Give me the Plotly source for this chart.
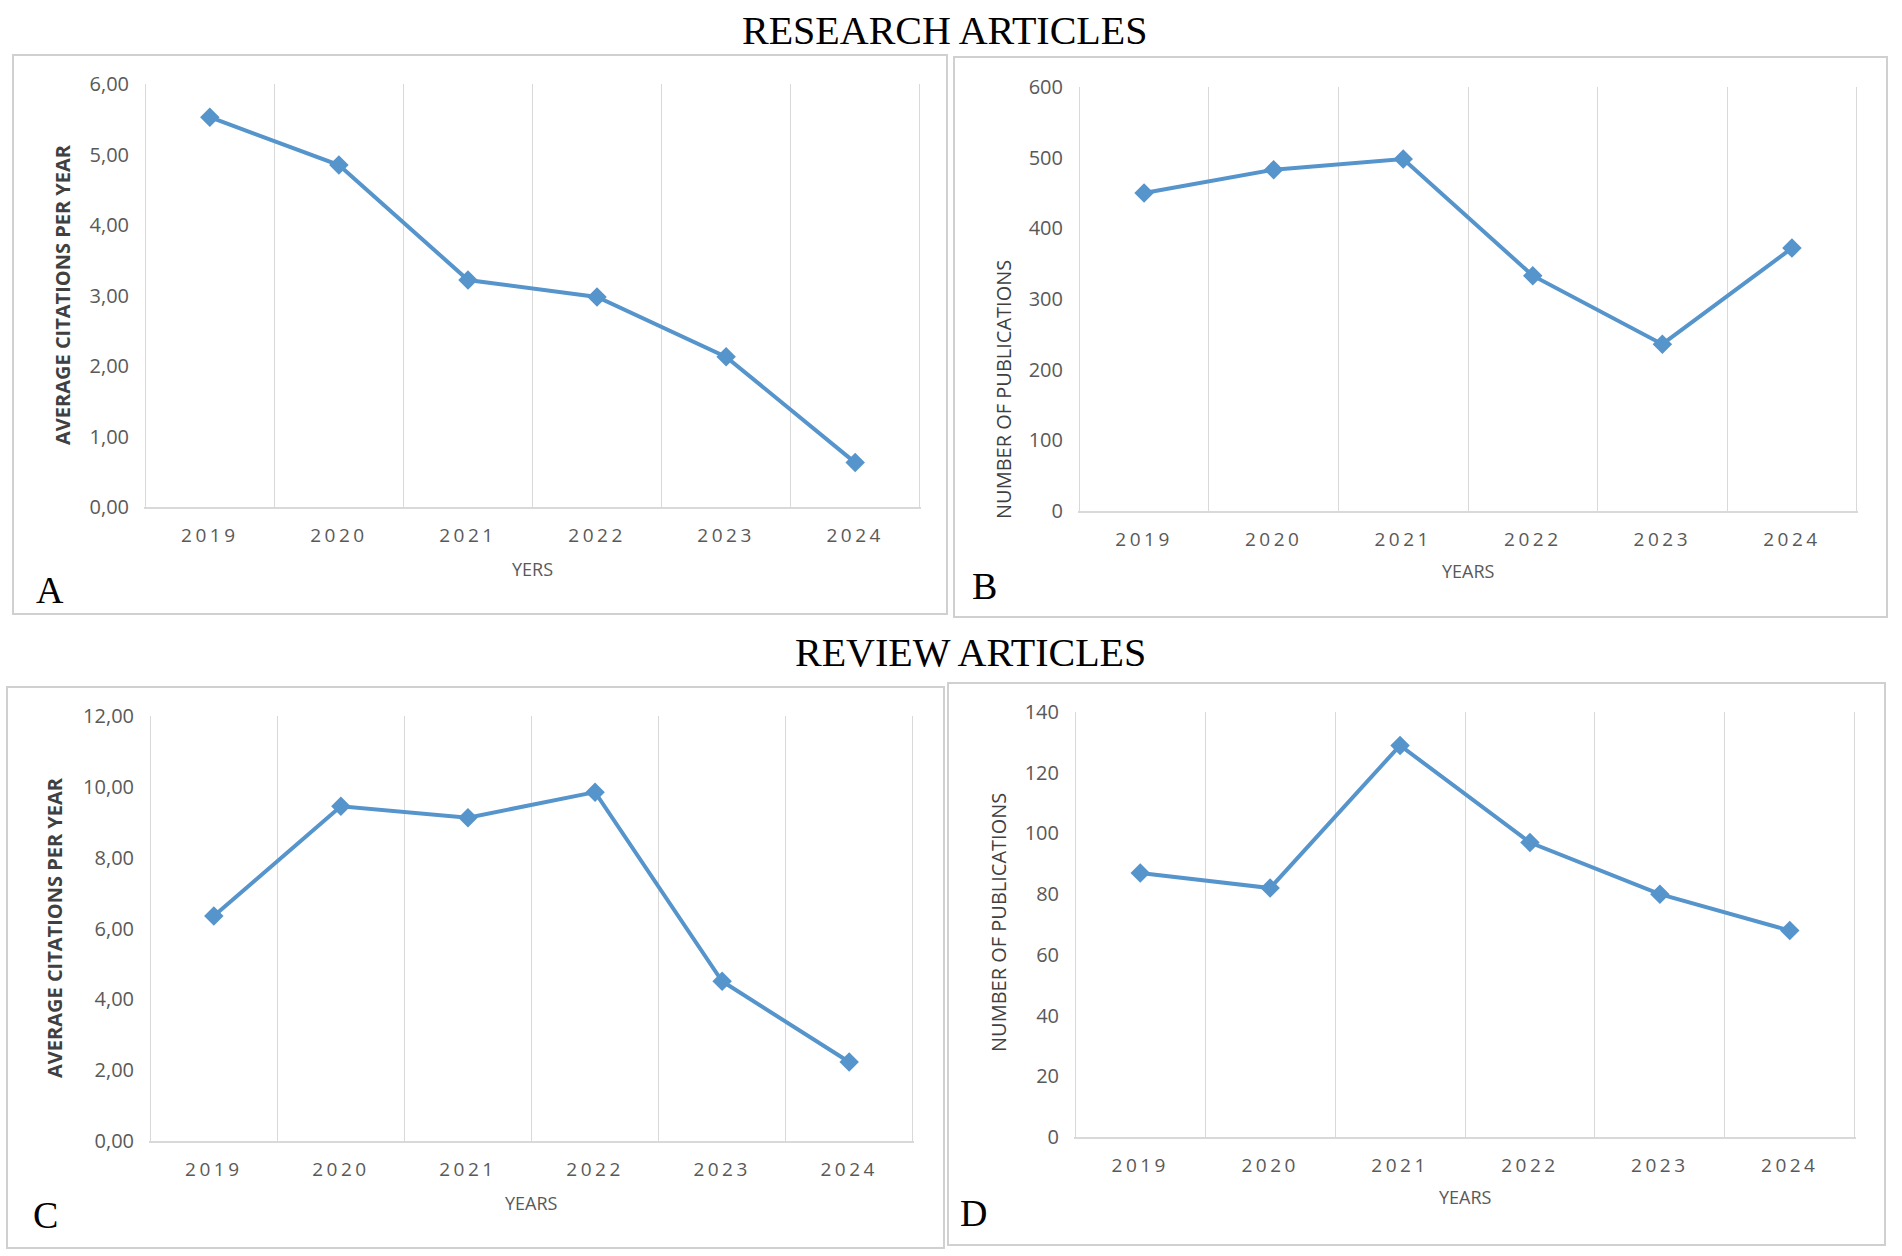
import plotly.graph_objects as go

W, H = 1902, 1256

years = ["2019", "2020", "2021", "2022", "2023", "2024"]
research_citations = [5.53, 4.85, 3.22, 2.98, 2.13, 0.63]
research_pubs = [450, 483, 498, 333, 236, 372]
review_citations = [6.35, 9.45, 9.13, 9.85, 4.51, 2.23]
review_pubs = [87, 82, 129, 97, 80, 68]

LINE = "#5694cc"
GRID = "#d9d9d9"
TICK = "#595959"
SANS = "Open Sans, Noto Sans, sans-serif"
SERIF = "Liberation Serif, Times New Roman, serif"

# year labels drawn with the wide letter spacing of the original
year_labels = ['<span style="letter-spacing:3.5px">%s</span>' % y for y in years]


def fx(p):
    return p / W


def fy(p):
    return 1 - p / H


# plot box (left, top, right, bottom) and frame box in pixels
panels = [
    dict(vals=research_citations, ymax=6, dtick=1, fmt=".2f",
         ytitle="<b>AVERAGE CITATIONS PER YEAR</b>", ytx=62, yty=295,
         xtitle="YERS", xty=569, letter="A", lx=34, ly=590,
         plot=(144, 84, 921, 507), frame=(13, 55, 947, 614)),
    dict(vals=research_pubs, ymax=600, dtick=100, fmt="d",
         ytitle="NUMBER OF PUBLICATIONS", ytx=1003, yty=390,
         xtitle="YEARS", xty=571, letter="B", lx=970, ly=586,
         plot=(1078, 87, 1858, 511), frame=(954, 57, 1887, 617)),
    dict(vals=review_citations, ymax=12, dtick=2, fmt=".2f",
         ytitle="<b>AVERAGE CITATIONS PER YEAR</b>", ytx=55, yty=928,
         xtitle="YEARS", xty=1203, letter="C", lx=31, ly=1215,
         plot=(149, 716, 914, 1141), frame=(7, 687, 944, 1248)),
    dict(vals=review_pubs, ymax=140, dtick=20, fmt="d",
         ytitle="NUMBER OF PUBLICATIONS", ytx=998, yty=922,
         xtitle="YEARS", xty=1197, letter="D", lx=958, ly=1213,
         plot=(1074, 712, 1856, 1137), frame=(948, 683, 1885, 1245)),
]

fig = go.Figure()
annotations = []
shapes = []
layout = {}

for n, p in enumerate(panels, start=1):
    sfx = "" if n == 1 else str(n)
    l, t, r, b = p["plot"]
    fig.add_trace(go.Scatter(
        x=years, y=p["vals"], mode="lines+markers",
        line=dict(color=LINE, width=4),
        marker=dict(symbol="diamond", size=15, color=LINE),
        xaxis="x" + sfx, yaxis="y" + sfx, showlegend=False,
    ))
    layout["xaxis" + sfx] = dict(
        domain=[fx(l), fx(r)], anchor="y" + sfx, type="category",
        range=[-0.51, 5.51], tickson="boundaries", ticks="",
        tickmode="array", tickvals=years, ticktext=year_labels,
        showgrid=True, gridcolor=GRID, gridwidth=1,
        showline=True, linecolor=GRID, linewidth=1.5,
        tickfont=dict(family=SANS, size=19, color=TICK),
        ticklabelstandoff=10, fixedrange=True, automargin=False,
    )
    layout["yaxis" + sfx] = dict(
        domain=[fy(b), fy(t)], anchor="x" + sfx,
        range=[0, p["ymax"]], dtick=p["dtick"], tick0=0,
        tickformat=p["fmt"], showgrid=False, zeroline=False,
        showline=False, ticks="",
        tickfont=dict(family=SANS, size=20, color=TICK),
        ticklabelstandoff=14, fixedrange=True, automargin=False,
    )
    fl, ft, fr, fb = p["frame"]
    shapes.append(dict(type="rect", xref="paper", yref="paper",
                       x0=fx(fl), x1=fx(fr), y0=fy(fb), y1=fy(ft),
                       line=dict(color="#d0d0d0", width=2), layer="below"))
    annotations.append(dict(
        text=p["ytitle"], textangle=-90, showarrow=False,
        xref="paper", yref="paper", x=fx(p["ytx"]), y=fy(p["yty"]),
        xanchor="center", yanchor="middle",
        font=dict(family=SANS, size=20, color="#404040"),
    ))
    annotations.append(dict(
        text=p["xtitle"], showarrow=False,
        xref="paper", yref="paper", x=fx((l + r) / 2), y=fy(p["xty"]),
        xanchor="center", yanchor="middle",
        font=dict(family=SANS, size=18, color=TICK),
    ))
    annotations.append(dict(
        text=p["letter"], showarrow=False,
        xref="paper", yref="paper", x=fx(p["lx"]), y=fy(p["ly"]),
        xanchor="left", yanchor="middle",
        font=dict(family=SERIF, size=38, color="black"),
    ))

annotations.append(dict(
    text="RESEARCH ARTICLES", showarrow=False,
    xref="paper", yref="paper", x=fx(944), y=fy(31),
    xanchor="center", yanchor="middle",
    font=dict(family=SERIF, size=40, color="black"),
))
annotations.append(dict(
    text="REVIEW ARTICLES", showarrow=False,
    xref="paper", yref="paper", x=fx(970), y=fy(652),
    xanchor="center", yanchor="middle",
    font=dict(family=SERIF, size=40, color="black"),
))

fig.update_layout(
    width=W, height=H, margin=dict(l=0, r=0, t=0, b=0, autoexpand=False),
    paper_bgcolor="white", plot_bgcolor="white",
    separators=",.", annotations=annotations, shapes=shapes,
    **layout,
)

# drop the default page margin so the figure sits at the window origin
fig.write_html("out.html", config={"displayModeBar": False},
               post_script="document.body.style.margin = '0';")
